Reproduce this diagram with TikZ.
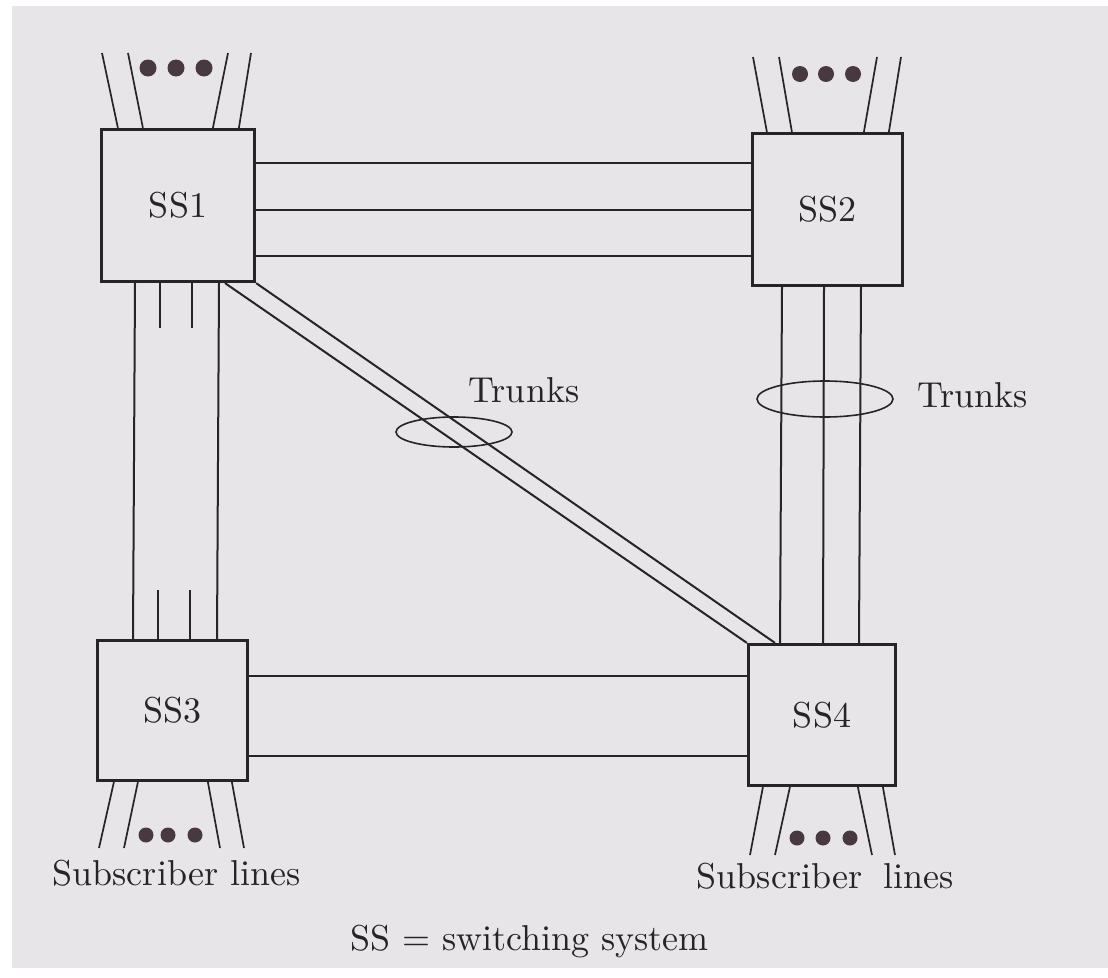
\documentclass[tikz,border=0pt]{standalone}
\usepackage{graphicx}
\usetikzlibrary{shapes.geometric}
\definecolor{paper}{RGB}{231,229,231}
\definecolor{ink}{RGB}{40,35,38}
\definecolor{dotc}{RGB}{72,56,64}
\newcommand\bigtxt[1]{\scalebox{3.6}{\fontsize{10}{12}\selectfont #1}}
\begin{document}
\begin{tikzpicture}[x=1pt,y=-1pt,
  lbl/.style={text=ink, inner sep=0pt},
  sw/.style={draw=ink, line width=3.2pt, inner sep=0pt, text=ink},
  trunk/.style={draw=ink, line width=2pt},
  subl/.style={draw=ink, line width=1.7pt},
  bundle/.style={ellipse, draw=ink, line width=1.6pt, inner sep=0pt},
  dotf/.style={fill=dotc}]
% page
\fill[white] (0,0) rectangle (1108,977);
\fill[paper] (12,6) rectangle (1108,968);
\useasboundingbox (0,0) rectangle (1108,977);

% switching systems
\node[sw, minimum width=153pt, minimum height=152pt] (ss1) at (178,205.5) {\bigtxt{SS1}};
\node[sw, minimum width=150pt, minimum height=152pt] (ss2) at (827.5,209.5) {\bigtxt{SS2}};
\node[sw, minimum width=150pt, minimum height=140pt] (ss3) at (172.5,710.5) {\bigtxt{SS3}};
\node[sw, minimum width=147pt, minimum height=141pt] (ss4) at (822,715) {\bigtxt{SS4}};

% helper coordinates
\coordinate (ya) at (0,163);
\coordinate (yb) at (0,210);
\coordinate (yc) at (0,256);
\coordinate (yd) at (0,676);
\coordinate (ye) at (0,756);
\coordinate (xa1) at (135,0);  \coordinate (xa2) at (133,0);
\coordinate (xb1) at (219,0);  \coordinate (xb2) at (217,0);
\coordinate (xs1) at (160,0);  \coordinate (xs2) at (192,0);
\coordinate (xs3) at (158,0);  \coordinate (xs4) at (190,0);
\coordinate (xc1) at (782,0);  \coordinate (xc2) at (780,0);
\coordinate (xd1) at (824,0);  \coordinate (xd2) at (823,0);
\coordinate (xe1) at (861,0);  \coordinate (xe2) at (859,0);
\coordinate (xg1) at (225,0);  \coordinate (xg2) at (775,0);

% trunks SS1 - SS2
\draw[trunk] (ss1.east |- ya) -- (ss2.west |- ya);
\draw[trunk] (ss1.east |- yb) -- (ss2.west |- yb);
\draw[trunk] (ss1.east |- yc) -- (ss2.west |- yc);
% trunks SS3 - SS4
\draw[trunk] (ss3.east |- yd) -- (ss4.west |- yd);
\draw[trunk] (ss3.east |- ye) -- (ss4.west |- ye);
% trunks SS1 - SS3
\draw[trunk] (ss1.south -| xa1) -- (ss3.north -| xa2);
\draw[trunk] (ss1.south -| xb1) -- (ss3.north -| xb2);
\draw[trunk] (ss1.south -| xs1) -- ++(0,45);
\draw[trunk] (ss1.south -| xs2) -- ++(0,45);
\draw[trunk] (ss3.north -| xs3) -- ++(0,-49);
\draw[trunk] (ss3.north -| xs4) -- ++(0,-49);
% trunks SS2 - SS4
\draw[trunk] (ss2.south -| xc1) -- (ss4.north -| xc2);
\draw[trunk] (ss2.south -| xd1) -- (ss4.north -| xd2);
\draw[trunk] (ss2.south -| xe1) -- (ss4.north -| xe2);
% trunks SS1 - SS4
\draw[trunk] (ss1.south -| xg1) -- (ss4.north west);
\draw[trunk] (ss1.south east) -- (ss4.north -| xg2);

% bundle ellipses
\node[bundle, minimum width=116pt, minimum height=30pt] (e1) at (454,432) {};
\node[bundle, minimum width=136pt, minimum height=36pt] (e2) at (825,399) {};
\node[lbl, anchor=base] (t1) at (524,402) {\bigtxt{Trunks}};
\node[lbl, anchor=base] (t2) at (972.5,407) {\bigtxt{Trunks}};

% subscriber lines SS1
\draw[subl] ([xshift=18pt]ss1.north west) -- (102,53);
\draw[subl] ([xshift=43pt]ss1.north west) -- (128,53);
\draw[subl] ([xshift=113pt]ss1.north west) -- (228,53);
\draw[subl] ([xshift=139pt]ss1.north west) -- (251,53);
\fill[dotf] (148,68) circle (8.5) (176,68) circle (8.5) (204,68) circle (8.5);
% subscriber lines SS2
\draw[subl] ([xshift=16pt]ss2.north west) -- (753,57);
\draw[subl] ([xshift=41pt]ss2.north west) -- (779,57);
\draw[subl] ([xshift=113pt]ss2.north west) -- (877,57);
\draw[subl] ([xshift=138pt]ss2.north west) -- (901,57);
\fill[dotf] (800,74) circle (8) (826,74) circle (8) (853,74) circle (8);
% subscriber lines SS3
\draw[subl] ([xshift=18pt]ss3.south west) -- (99,848);
\draw[subl] ([xshift=42pt]ss3.south west) -- (124,848);
\draw[subl] ([xshift=112pt]ss3.south west) -- (220,848);
\draw[subl] ([xshift=136pt]ss3.south west) -- (244,848);
\fill[dotf] (146,835) circle (7.5) (168,835) circle (7.5) (195,835) circle (7.5);
% subscriber lines SS4
\draw[subl] ([xshift=16pt]ss4.south west) -- (750,855);
\draw[subl] ([xshift=43pt]ss4.south west) -- (775,855);
\draw[subl] ([xshift=111pt]ss4.south west) -- (872,855);
\draw[subl] ([xshift=136pt]ss4.south west) -- (895,855);
\fill[dotf] (797,838) circle (7.5) (823,838) circle (7.5) (850,838) circle (7.5);

% labels
\node[lbl, anchor=base] (sl1) at (176.5,885) {\bigtxt{Subscriber lines}};
\node[lbl, anchor=base] (sl2) at (825.5,888) {\bigtxt{Subscriber\hspace{0.6em}lines}};
\node[lbl, anchor=base] (leg) at (529.5,950) {\bigtxt{SS = switching system}};
\end{tikzpicture}
\end{document}
